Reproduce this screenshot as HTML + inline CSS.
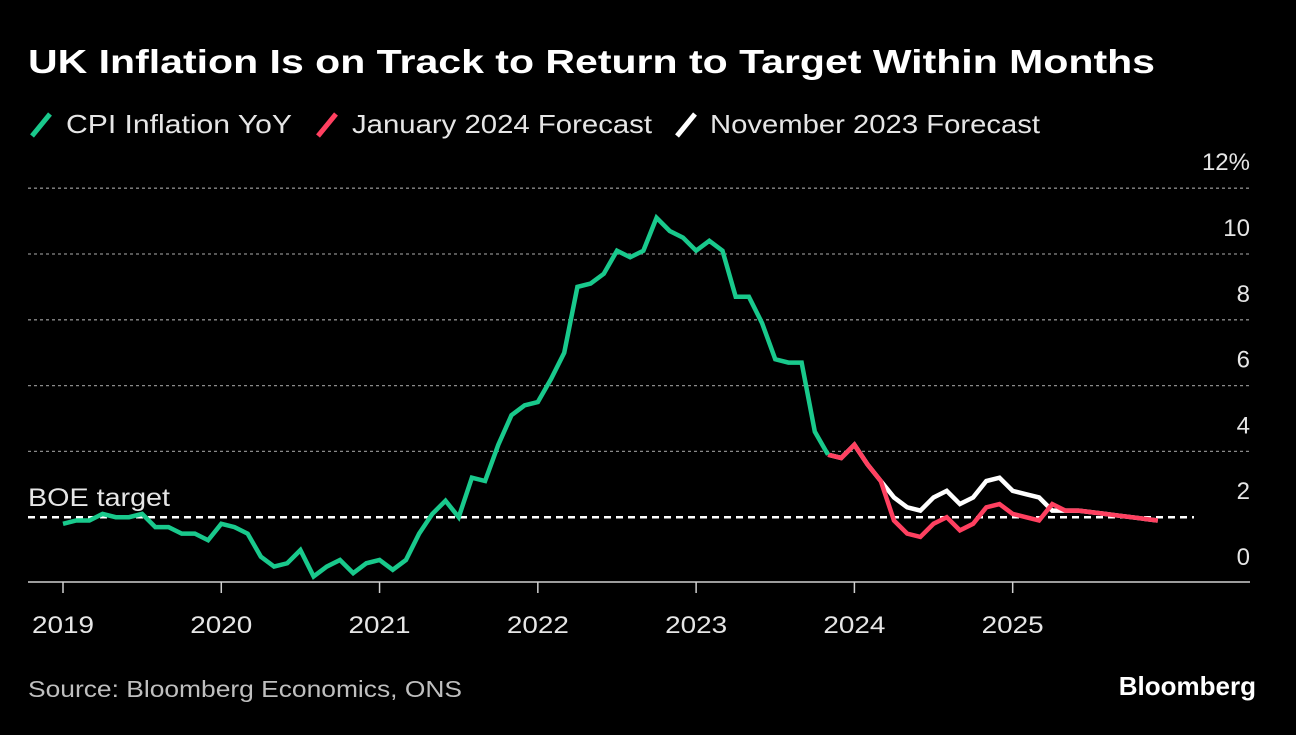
<!DOCTYPE html>
<html><head><meta charset="utf-8"><style>
body{margin:0;background:#000;width:1296px;height:730px;overflow:hidden;font-family:"Liberation Sans",sans-serif;color:#fff}
</style></head><body>
<svg width="1296" height="730">
<text x="28" y="73" font-size="33" font-weight="bold" fill="#fff" textLength="1127" lengthAdjust="spacingAndGlyphs">UK Inflation Is on Track to Return to Target Within Months</text>
<g font-size="26" fill="#e6e6e6">
<g><line x1="32" y1="136" x2="50" y2="114" stroke="#19c98c" stroke-width="5"/><text x="66" y="133" textLength="226" lengthAdjust="spacingAndGlyphs">CPI Inflation YoY</text></g>
<g><line x1="318" y1="136" x2="336" y2="114" stroke="#ff4060" stroke-width="5"/><text x="352" y="133" textLength="300" lengthAdjust="spacingAndGlyphs">January 2024 Forecast</text></g>
<g><line x1="677" y1="136" x2="695" y2="114" stroke="#fff" stroke-width="5"/><text x="710" y="133" textLength="330" lengthAdjust="spacingAndGlyphs">November 2023 Forecast</text></g>
</g>
<g id="grid"></g>
<g id="xaxis"></g>
<g id="series"></g>
<text x="28" y="506" font-size="25" fill="#e6e6e6" textLength="142" lengthAdjust="spacingAndGlyphs">BOE target</text>
<text x="28" y="697" font-size="23" fill="#bfbfbf" textLength="434" lengthAdjust="spacingAndGlyphs">Source: Bloomberg Economics, ONS</text>
<text x="1256" y="695" font-size="26" font-weight="bold" fill="#fff" text-anchor="end">Bloomberg</text>
</svg>
<script>
const yTicks=[0,2,4,6,8,10,12];
const xYears=[2019,2020,2021,2022,2023,2024,2025];
const cpi=[1.8,1.9,1.9,2.1,2.0,2.0,2.1,1.7,1.7,1.5,1.5,1.3,
1.8,1.7,1.5,0.8,0.5,0.6,1.0,0.2,0.5,0.7,0.3,0.6,
0.7,0.4,0.7,1.5,2.1,2.5,2.0,3.2,3.1,4.2,5.1,5.4,
5.5,6.2,7.0,9.0,9.1,9.4,10.1,9.9,10.1,11.1,10.7,10.5,
10.1,10.4,10.1,8.7,8.7,7.9,6.8,6.7,6.7,4.6,3.9];
const janForecast=[3.9,3.8,4.2,3.6,3.1,1.9,1.5,1.4,1.8,2.0,1.6,1.8,2.3,2.4,2.1,2.0,1.9,2.4,2.2,2.2,2.15,2.1,2.05,2.0,1.95,1.9];
const novForecast=[3.9,3.8,4.2,3.6,3.1,2.6,2.3,2.2,2.6,2.8,2.4,2.6,3.1,3.2,2.8,2.7,2.6,2.2,2.2,2.2,2.15,2.1,2.05,2.0,1.95,1.9];
const target=2;
const NS="http://www.w3.org/2000/svg";
const x=m=>63+m*13.19;
const y=v=>583-v*32.9;
function mk(t,a,p){const e=document.createElementNS(NS,t);for(const k in a)e.setAttribute(k,a[k]);p.appendChild(e);return e;}
const grid=document.getElementById('grid');
yTicks.forEach(v=>{
 if(v>0&&v!==target){const l=mk('line',{x1:28,x2:1250,y1:y(v),y2:y(v),stroke:'#8a8a8a','stroke-width':1.3,'stroke-dasharray':'3,3'},grid);
 
 }
 const t=mk('text',{x:1250,y:y(v)-18,'font-size':24,fill:'#e6e6e6','text-anchor':'end'},grid);
 t.textContent=v===12?'12%':String(v);
 
 
});
const base=mk('line',{x1:28,x2:1250,y1:y(0)-1,y2:y(0)-1,stroke:'#cfcfcf','stroke-width':1.5},grid);


const tl=mk('line',{x1:28,x2:1194,y1:y(target),y2:y(target),stroke:'#fff','stroke-width':2.5,'stroke-dasharray':'7,5'},grid);


const xa=document.getElementById('xaxis');
xYears.forEach((yr,i)=>{
 const tk=mk('line',{x1:x(i*12),x2:x(i*12),y1:y(0)-1,y2:y(0)+10,stroke:'#cfcfcf','stroke-width':1.5},xa);
 
 
 const t=mk('text',{x:x(i*12),y:633,'font-size':24,fill:'#e6e6e6','text-anchor':'middle',textLength:62,lengthAdjust:'spacingAndGlyphs'},xa);
 t.textContent=yr;
 
 
});
const s=document.getElementById('series');
function line(arr,off,col,name){
 const p=mk('polyline',{points:arr.map((v,i)=>x(i+off)+','+y(v)).join(' '),fill:'none',stroke:col,'stroke-width':4.5,'stroke-linejoin':'miter'},s);
 
 
}
line(novForecast,cpi.length-1,'#fff','nov-2023-forecast-line');
line(janForecast,cpi.length-1,'#ff4060','jan-2024-forecast-line');
line(cpi,0,'#19c98c','cpi-inflation-line');
</script>
</body></html>
